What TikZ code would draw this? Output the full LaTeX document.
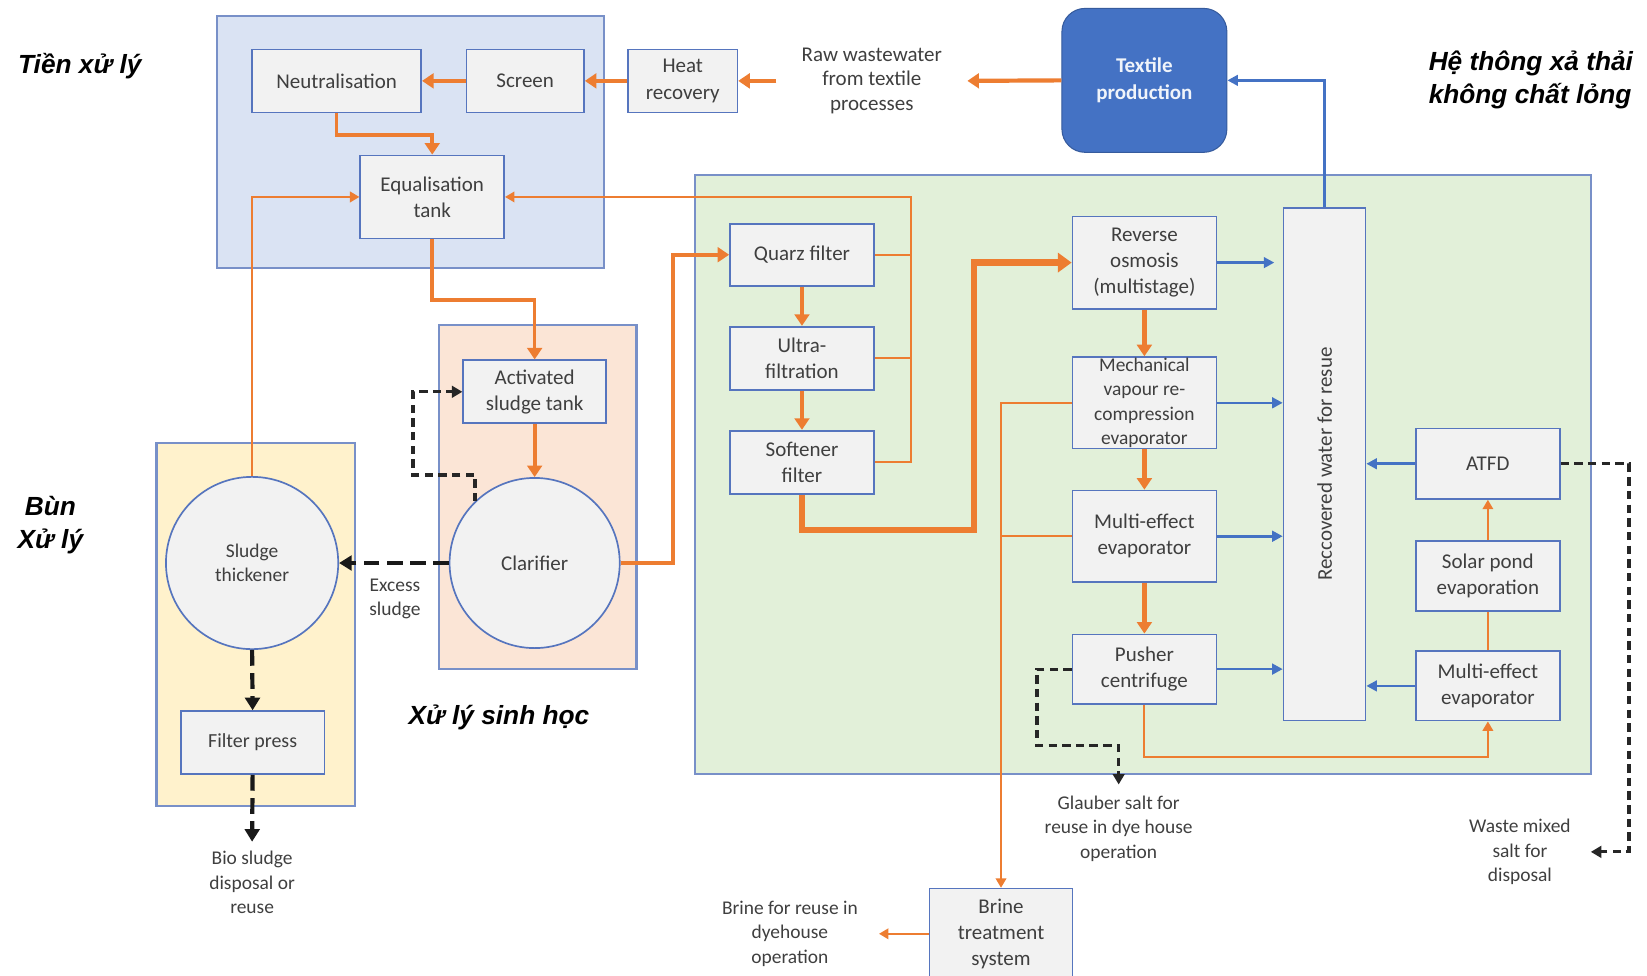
\documentclass[tikz,border=0pt]{standalone}
\usepackage{fontspec}
\setmainfont{Carlito}
\newfontfamily\vnfont{Liberation Sans}
\usetikzlibrary{arrows.meta,calc}

\definecolor{flowor}{HTML}{ED7D31}
\definecolor{waterbl}{HTML}{4472C4}
\definecolor{edgebl}{HTML}{5675BE}
\definecolor{panelbd}{HTML}{7890C8}
\definecolor{pretreat}{HTML}{DAE3F3}
\definecolor{biotreat}{HTML}{FBE5D6}
\definecolor{sludgebg}{HTML}{FFF2CC}
\definecolor{zldbg}{HTML}{E2F0D9}
\definecolor{boxfill}{HTML}{F2F2F2}
\definecolor{txtgrey}{HTML}{3F3F3F}

\tikzset{
	procbox/.style={draw=edgebl, line width=1.6pt, fill=boxfill, text=txtgrey, align=center, inner sep=0pt, font=\fontsize{20}{25}\selectfont},
	tank/.style={procbox, circle},
	note/.style={text=txtgrey, align=center, inner sep=0pt, font=\fontsize{18.5}{23}\selectfont},
	zone/.style={draw=panelbd, line width=2pt},
	vnlabel/.style={inner sep=0pt, align=center, font=\vnfont\bfseries\itshape\fontsize{25}{32}\selectfont},
	flowthick/.style={draw=flowor, line width=4pt, -{Triangle[width=14pt,length=11pt]}},
	flowbig/.style={draw=flowor, line width=6pt, -{Triangle[width=18pt,length=13pt]}},
	flowthin/.style={draw=flowor, line width=2pt, -{Triangle[width=10pt,length=9pt]}},
	pipethin/.style={draw=flowor, line width=2pt},
	waterflow/.style={draw=waterbl, line width=2.5pt, -{Triangle[width=10pt,length=10pt]}},
	sludgeflow/.style={draw=black!85, line width=3pt, dash pattern=on 8pt off 5pt, -{Triangle[width=11pt,length=10pt]}},
	excessflow/.style={draw=black!90, line width=4.5pt, dash pattern=on 15pt off 7pt, -{Triangle[width=14pt,length=12pt]}},
}

\begin{document}
\begin{tikzpicture}[x=1pt,y=-1pt]
			%%%%% START %%%%%
			\useasboundingbox (0,0) rectangle (1568,929);
			
			% zones
			\draw[zone, fill=pretreat] (207,15) rectangle (575,255);
			\draw[zone, fill=biotreat] (418,309) rectangle (606,637);
			\draw[zone, fill=sludgebg] (149,422) rectangle (338,767);
			\draw[zone, fill=zldbg] (662,167) rectangle (1515,737);
			
			% zone titles
			\node[vnlabel] (pretitle) at (76,63) {Tiền xử lý};
			\node[vnlabel] (sludgetitle) at (48,500) {Bùn\\Xử lý};
			\node[vnlabel] (biotitle) at (475,683) {Xử lý sinh học};
			\node[vnlabel, align=left, anchor=west] (zldtitle) at (1360,76) {Hệ thông xả thải\\không chất lỏng};
			
			% pre-treatment
			\node[procbox, minimum width=161pt, minimum height=60pt] (neut) at (320.5,77) {Neutralisation};
			\node[procbox, minimum width=112pt, minimum height=60pt] (screen) at (500,77) {Screen};
			\node[procbox, minimum width=104pt, minimum height=60pt] (heat) at (650,77) {Heat\\recovery};
			\node[procbox, minimum width=137pt, minimum height=79pt] (equal) at (411.5,187.5) {Equalisation\\tank};
			\node[note, inner xsep=24pt, font=\fontsize{20}{23}\selectfont] (raw) at (830,77) {Raw wastewater\\from textile\\processes};
			\node[procbox, draw=waterbl!80!black, line width=1pt, fill=waterbl, text=white!92!waterbl, rounded corners=22pt,
				minimum width=157pt, minimum height=137pt, font=\bfseries\fontsize{20}{26}\selectfont] (textile) at (1089.5,76.5) {Textile\\production};
			
			% biological treatment and sludge
			\node[procbox, minimum width=136pt, minimum height=60pt] (act) at (509,373) {Activated\\sludge tank};
			\node[tank, minimum size=162pt] (clar) at (509,536) {Clarifier};
			\node[tank, minimum size=164pt, font=\fontsize{18.5}{23}\selectfont] (thick) at (240,536) {Sludge\\thickener};
			\node[procbox, minimum width=137pt, minimum height=60pt, font=\fontsize{19}{23}\selectfont] (filter) at (240.5,707) {Filter press};
			\node[note] (excess) at (376,570) {Excess\\sludge};
			\node[note, inner ysep=9pt] (bio) at (240,840) {Bio sludge\\disposal or\\reuse};
			
			% zero liquid discharge
			\node[procbox, minimum width=137pt, minimum height=59pt] (quarz) at (763.5,242.5) {Quarz filter};
			\node[procbox, minimum width=137pt, minimum height=60pt] (ultra) at (763.5,341) {Ultra-\\filtration};
			\node[procbox, minimum width=137pt, minimum height=60pt] (soft) at (763.5,440) {Softener\\filter};
			\node[procbox, minimum width=137pt, minimum height=88pt] (ro) at (1089.5,250) {Reverse\\osmosis\\(multistage)};
			\node[procbox, minimum width=137pt, minimum height=87pt, font=\fontsize{18.5}{23}\selectfont] (mvr) at (1089.5,383.5) {Mechanical\\vapour re-\\compression\\evaporator};
			\node[procbox, minimum width=137pt, minimum height=87pt] (mee) at (1089.5,510.5) {Multi-effect\\evaporator};
			\node[procbox, minimum width=137pt, minimum height=66pt] (push) at (1089.5,637) {Pusher\\centrifuge};
			\node[procbox, minimum width=78pt, minimum height=488pt] (recov) at (1261,442) {\rotatebox{90}{Reccovered water for resue}};
			\node[procbox, minimum width=137pt, minimum height=67pt] (atfd) at (1416.5,441.5) {ATFD};
			\node[procbox, minimum width=137pt, minimum height=67pt] (solar) at (1416.5,548.5) {Solar pond\\evaporation};
			\node[procbox, minimum width=137pt, minimum height=66pt] (mee2) at (1416.5,653) {Multi-effect\\evaporator};
			\node[procbox, minimum width=136pt, minimum height=86pt] (brine) at (953,889) {Brine\\treatment\\system};
			\node[note, inner ysep=11pt] (glauber) at (1065,789) {Glauber salt for\\reuse in dye house\\operation};
			\node[note, inner xsep=19pt] (waste) at (1447,811) {Waste mixed\\salt for\\disposal};
			\node[note, inner xsep=20pt] (brineuse) at (752,889) {Brine for reuse in\\dyehouse\\operation};
			
			% main wastewater line
			\draw[flowthick] (textile.west) -- (raw.east);
			\draw[flowthick] (raw.west) -- (heat.east);
			\draw[flowthick] (heat.west) -- (screen.east);
			\draw[flowthick] (screen.west) -- (neut.east);
			\draw[flowthick, line width=3.5pt] (neut.south) -- ++(0,21) -| (equal.north);
			\draw[flowthick, line width=3.5pt] (equal.south) -- ++(0,58) -| (act.north);
			\draw[flowthick] (act.south) -- (clar.north);
			\draw[flowthick] (clar.east) -- ++(50,0) |- (quarz.west);
			\draw[flowthick] (quarz.south) -- (ultra.north);
			\draw[flowthick] (ultra.south) -- (soft.north);
			\draw[flowbig] (soft.south) -- ++(0,34) -- ++(163.5,0) |- (ro.west);
			\draw[flowthick] (ro.south) -- (mvr.north);
			\draw[flowthick] (mvr.south) -- (mee.north);
			\draw[flowthick] (mee.south) -- (push.north);
			
			% return and reject lines
			\draw[flowthin] (thick.north) |- (equal.west);
			\draw[pipethin] (quarz.east) -- ++(34.5,0);
			\draw[pipethin] (ultra.east) -- ++(34.5,0);
			\draw[flowthin] (soft.east) -- ++(34.5,0) |- (equal.east);
			\draw[flowthin] (mvr.west) -| (brine.north);
			\draw[pipethin] (mee.west) -- (mee.west -| brine.north);
			\draw[flowthin] (brine.west) -- (brineuse.east);
			\draw[flowthin] (push.south) -- ++(0,50) -| (mee2.south);
			\draw[pipethin] (mee2.north) -- (solar.south);
			\draw[flowthin] (solar.north) -- (atfd.south);
			
			% recovered water
			\draw[waterflow, shorten >=8pt] (ro.east) -- (ro.east -| recov.west);
			\draw[waterflow] (mvr.east) -- (mvr.east -| recov.west);
			\draw[waterflow] (mee.east) -- (mee.east -| recov.west);
			\draw[waterflow] (push.east) -- (push.east -| recov.west);
			\draw[waterflow] (atfd.west) -- (atfd.west -| recov.east);
			\draw[waterflow] (mee2.west) -- (mee2.west -| recov.east);
			\draw[waterflow] (recov.north) |- (textile.east);
			
			% sludge and salt
			\draw[sludgeflow] (clar.134) -- ++(0,-25) -- ++(-59,0) |- (act.west);
			\draw[excessflow] (clar.west) -- (thick.east);
			\draw[excessflow, line width=4pt] (thick.south) -- (filter.north);
			\draw[excessflow, line width=4pt] (filter.south) -- (bio.north);
			\draw[sludgeflow] (push.west) -- ++(-33,0) -- ++(0,73) -| (glauber.north);
			\draw[sludgeflow] (atfd.east) -- ++(65,0) |- (waste.east);
			
			%%%%% END %%%%%
\end{tikzpicture}
\end{document}
